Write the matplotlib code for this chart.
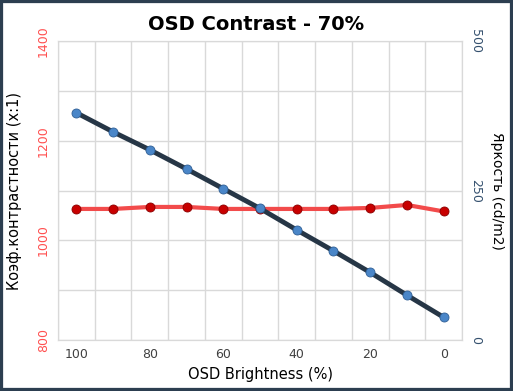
import matplotlib.pyplot as plt
from matplotlib.patches import Rectangle

# OSD brightness steps and measurements
osd_brightness = [100, 90, 80, 70, 60, 50, 40, 30, 20, 10, 0]
contrast = [1063, 1063, 1067, 1067, 1063, 1063, 1063, 1063, 1065, 1071, 1058]
luminance = [380, 348, 318, 286, 253, 220, 184, 149, 113, 75, 38]
x_labels = ['100', '', '80', '', '60', '', '40', '', '20', '', '0']

fig = plt.figure(figsize=(5.13, 3.91), dpi=100)
ax = fig.add_axes([58 / 513, 51 / 391, 404 / 513, 299 / 391])
ax2 = ax.twinx()

pos = list(range(len(osd_brightness)))

# contrast ratio on the left axis (red)
ax.plot(pos, contrast, color='#f24b4b', lw=3, zorder=3,
        marker='o', ms=6.5, mfc='#c80000', mec='#8a0000', mew=0.6)
# luminance on the right axis (dark line, blue markers)
ax2.plot(pos, luminance, color='#263646', lw=3.5, zorder=3,
         marker='o', ms=6.5, mfc='#4a86c8', mec='#2f5f95', mew=0.6)

ax.set_xlim(-0.5, len(pos) - 0.5)
ax.set_ylim(800, 1400)
ax2.set_ylim(0, 500)

ax.set_xticks(pos)
ax.set_xticklabels(x_labels, fontsize=9, color='#404040')
ax.set_xticks([p - 0.5 for p in pos] + [len(pos) - 0.5], minor=True)
ax.tick_params(axis='x', which='both', length=0, pad=6)
ax.grid(False)
ax.grid(which='minor', axis='x', color='#d9d9d9', lw=1)

ax.set_yticks([800, 1000, 1200, 1400])
ax.set_yticks(range(900, 1400, 200), minor=True)
ax.grid(which='both', axis='y', color='#d9d9d9', lw=1)
ax.tick_params(axis='y', which='both', length=0, pad=6)
for t in ax.get_yticklabels():
    t.set_rotation(90)
    t.set_va('center')
    t.set_color('#ff5050')
    t.set_fontsize(9)

ax2.set_yticks([0, 250, 500])
ax2.tick_params(axis='y', length=0, pad=5)
for t in ax2.get_yticklabels():
    t.set_rotation(-90)
    t.set_va('center')
    t.set_color('#34506e')
    t.set_fontsize(9)

for a in (ax, ax2):
    for s in a.spines.values():
        s.set_color('#d9d9d9')
ax.set_axisbelow(True)

ax.set_xlabel('OSD Brightness (%)', fontsize=10.5, labelpad=4)
ax.set_ylabel('Коэф.контрастности (x:1)', fontsize=10.5)
ax2.set_ylabel('Яркость (cd/m2)', fontsize=10, rotation=-90)
ax.yaxis.set_label_coords(-43 / 404, 0.5)
ax2.yaxis.set_label_coords(1 + 35 / 404, 0.5)
for lab in (ax.yaxis.label, ax2.yaxis.label):
    lab.set_va('center')
    lab.set_ha('center')

fig.text(0.5, 1 - 24 / 391, 'OSD Contrast - 70%', ha='center', va='center',
         fontsize=14, fontweight='bold')

# dark frame around the whole chart
fig.patches.append(Rectangle((0, 0), 1, 1, transform=fig.transFigure,
                             fill=False, edgecolor='#2c3e50', lw=4.5))

plt.savefig('out.png', dpi=100)
